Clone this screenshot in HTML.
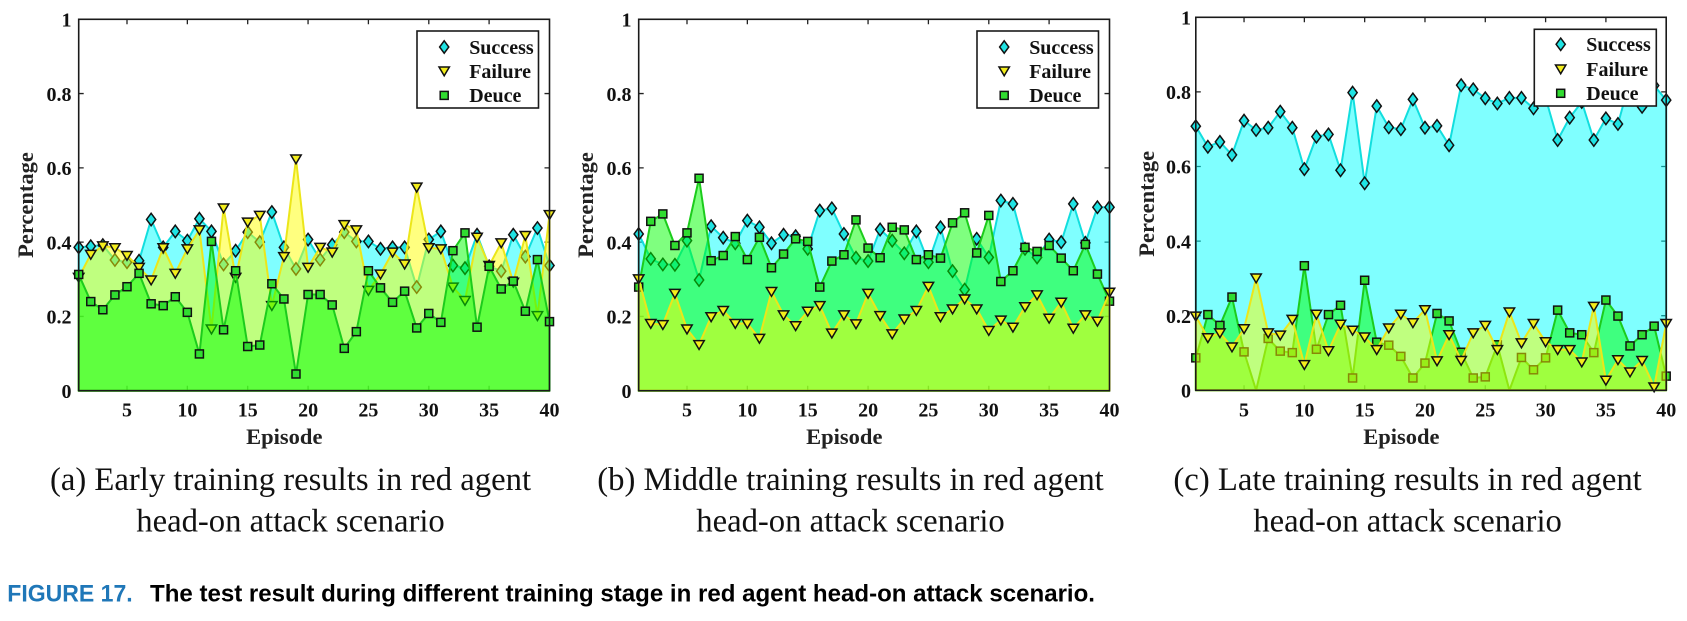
<!DOCTYPE html>
<html><head><meta charset="utf-8"><style>
body{margin:0;background:#fff}
svg{display:block}
.ser{font-family:"Liberation Serif",serif}
.b{font-weight:bold}
.fc{fill:#00ffff;fill-opacity:.5;stroke:#12dede;stroke-width:2;vector-effect:non-scaling-stroke;stroke-linejoin:round}
.fy{fill:#ffff00;fill-opacity:.5;stroke:#ece61a;stroke-width:2;vector-effect:non-scaling-stroke;stroke-linejoin:round}
.fg{fill:#00ff00;fill-opacity:.5;stroke:#1ccc1c;stroke-width:2;vector-effect:non-scaling-stroke;stroke-linejoin:round}
.tk{stroke:#222;stroke-width:1.3;fill:none}
.bx{stroke:#1a1a1a;stroke-width:1.6;fill:none}
</style></head><body>
<svg width="1687" height="621" viewBox="0 0 1687 621">
<defs>
<g id="d"><path d="M0,-6.2L4.6,0L0,6.2L-4.6,0Z" fill="#1fe3e3" stroke="#111" stroke-width="1.5"/></g>
<g id="t"><path d="M-5.2,-4L5.2,-4L0,4.8Z" fill="#f4ee1c" stroke="#111" stroke-width="1.5"/></g>
<g id="s"><rect x="-4" y="-4" width="8" height="8" fill="#30dc30" stroke="#111" stroke-width="1.5"/></g>
</defs>
<rect width="1687" height="621" fill="#fff"/>

<!-- ================= PANEL A ================= -->
<path class="tk" d="M127,390.7v-5M187.35,390.7v-5M247.7,390.7v-5M308.07,390.7v-5M368.4,390.7v-5M428.8,390.7v-5M489.1,390.7v-5M127,19.3v5M187.35,19.3v5M247.7,19.3v5M308.07,19.3v5M368.4,19.3v5M428.8,19.3v5M489.1,19.3v5M78.7,316.42h5M78.7,242.14h5M78.7,167.86h5M78.7,93.58h5M549.5,316.42h-5M549.5,242.14h-5M549.5,167.86h-5M549.5,93.58h-5"/>
<g transform="translate(66.628,390.7) scale(12.072,-371.4)">
<polygon class="fc" points="1,0 1,.386 2,.389 3,.392 4,.352 5,.346 6,.350 7,.461 8,.386 9,.429 10,.404 11,.463 12,.429 13,.340 14,.377 15,.427 16,.400 17,.481 18,.386 19,.328 20,.407 21,.353 22,.393 23,.427 24,.402 25,.402 26,.382 27,.386 28,.386 29,.279 30,.407 31,.429 32,.337 33,.330 34,.420 35,.335 36,.322 37,.420 38,.361 39,.438 40,.337 40,0"/>
</g>
<svg x="78.7" y="390.7" width="470.8" height="371.4" overflow="visible">
<use href="#d" x="0%" y="-38.6%"/><use href="#d" x="2.564%" y="-38.9%"/><use href="#d" x="5.128%" y="-39.2%"/><use href="#d" x="7.692%" y="-35.2%"/><use href="#d" x="10.256%" y="-34.6%"/><use href="#d" x="12.821%" y="-35%"/><use href="#d" x="15.385%" y="-46.1%"/><use href="#d" x="17.949%" y="-38.6%"/><use href="#d" x="20.513%" y="-42.9%"/><use href="#d" x="23.077%" y="-40.4%"/><use href="#d" x="25.641%" y="-46.3%"/><use href="#d" x="28.205%" y="-42.9%"/><use href="#d" x="30.769%" y="-34%"/><use href="#d" x="33.333%" y="-37.7%"/><use href="#d" x="35.897%" y="-42.7%"/><use href="#d" x="38.462%" y="-40%"/><use href="#d" x="41.026%" y="-48.1%"/><use href="#d" x="43.59%" y="-38.6%"/><use href="#d" x="46.154%" y="-32.8%"/><use href="#d" x="48.718%" y="-40.7%"/><use href="#d" x="51.282%" y="-35.3%"/><use href="#d" x="53.846%" y="-39.3%"/><use href="#d" x="56.41%" y="-42.7%"/><use href="#d" x="58.974%" y="-40.2%"/><use href="#d" x="61.538%" y="-40.2%"/><use href="#d" x="64.103%" y="-38.2%"/><use href="#d" x="66.667%" y="-38.6%"/><use href="#d" x="69.231%" y="-38.6%"/><use href="#d" x="71.795%" y="-27.9%"/><use href="#d" x="74.359%" y="-40.7%"/><use href="#d" x="76.923%" y="-42.9%"/><use href="#d" x="79.487%" y="-33.7%"/><use href="#d" x="82.051%" y="-33%"/><use href="#d" x="84.615%" y="-42%"/><use href="#d" x="87.179%" y="-33.5%"/><use href="#d" x="89.744%" y="-32.2%"/><use href="#d" x="92.308%" y="-42%"/><use href="#d" x="94.872%" y="-36.1%"/><use href="#d" x="97.436%" y="-43.8%"/><use href="#d" x="100%" y="-33.7%"/>
</svg>
<g transform="translate(66.628,390.7) scale(12.072,-371.4)">
<polygon class="fy" points="1,0 1,.305 2,.367 3,.390 4,.385 5,.364 6,.332 7,.298 8,.385 9,.316 10,.382 11,.433 12,.166 13,.492 14,.305 15,.454 16,.472 17,.229 18,.361 19,.624 20,.332 21,.386 22,.373 23,.447 24,.433 25,.270 26,.314 27,.373 28,.341 29,.548 30,.385 31,.382 32,.279 33,.243 34,.413 35,.337 36,.398 37,.292 38,.418 39,.202 40,.474 40,0"/>
</g>
<svg x="78.7" y="390.7" width="470.8" height="371.4" overflow="visible">
<use href="#t" x="0%" y="-30.5%"/><use href="#t" x="2.564%" y="-36.7%"/><use href="#t" x="5.128%" y="-39%"/><use href="#t" x="7.692%" y="-38.5%"/><use href="#t" x="10.256%" y="-36.4%"/><use href="#t" x="12.821%" y="-33.2%"/><use href="#t" x="15.385%" y="-29.8%"/><use href="#t" x="17.949%" y="-38.5%"/><use href="#t" x="20.513%" y="-31.6%"/><use href="#t" x="23.077%" y="-38.2%"/><use href="#t" x="25.641%" y="-43.3%"/><use href="#t" x="28.205%" y="-16.6%"/><use href="#t" x="30.769%" y="-49.2%"/><use href="#t" x="33.333%" y="-30.5%"/><use href="#t" x="35.897%" y="-45.4%"/><use href="#t" x="38.462%" y="-47.2%"/><use href="#t" x="41.026%" y="-22.9%"/><use href="#t" x="43.59%" y="-36.1%"/><use href="#t" x="46.154%" y="-62.4%"/><use href="#t" x="48.718%" y="-33.2%"/><use href="#t" x="51.282%" y="-38.6%"/><use href="#t" x="53.846%" y="-37.3%"/><use href="#t" x="56.41%" y="-44.7%"/><use href="#t" x="58.974%" y="-43.3%"/><use href="#t" x="61.538%" y="-27%"/><use href="#t" x="64.103%" y="-31.4%"/><use href="#t" x="66.667%" y="-37.3%"/><use href="#t" x="69.231%" y="-34.1%"/><use href="#t" x="71.795%" y="-54.8%"/><use href="#t" x="74.359%" y="-38.5%"/><use href="#t" x="76.923%" y="-38.2%"/><use href="#t" x="79.487%" y="-27.9%"/><use href="#t" x="82.051%" y="-24.3%"/><use href="#t" x="84.615%" y="-41.3%"/><use href="#t" x="87.179%" y="-33.7%"/><use href="#t" x="89.744%" y="-39.8%"/><use href="#t" x="92.308%" y="-29.2%"/><use href="#t" x="94.872%" y="-41.8%"/><use href="#t" x="97.436%" y="-20.2%"/><use href="#t" x="100%" y="-47.4%"/>
</svg>
<g transform="translate(66.628,390.7) scale(12.072,-371.4)">
<polygon class="fg" points="1,0 1,.313 2,.240 3,.218 4,.258 5,.280 6,.316 7,.234 8,.229 9,.253 10,.211 11,.099 12,.402 13,.164 14,.323 15,.119 16,.123 17,.288 18,.247 19,.045 20,.259 21,.259 22,.231 23,.114 24,.159 25,.323 26,.277 27,.238 28,.268 29,.169 30,.208 31,.184 32,.377 33,.425 34,.171 35,.335 36,.274 37,.295 38,.214 39,.353 40,.186 40,0"/>
</g>
<svg x="78.7" y="390.7" width="470.8" height="371.4" overflow="visible">
<use href="#s" x="0%" y="-31.3%"/><use href="#s" x="2.564%" y="-24%"/><use href="#s" x="5.128%" y="-21.8%"/><use href="#s" x="7.692%" y="-25.8%"/><use href="#s" x="10.256%" y="-28%"/><use href="#s" x="12.821%" y="-31.6%"/><use href="#s" x="15.385%" y="-23.4%"/><use href="#s" x="17.949%" y="-22.9%"/><use href="#s" x="20.513%" y="-25.3%"/><use href="#s" x="23.077%" y="-21.1%"/><use href="#s" x="25.641%" y="-9.9%"/><use href="#s" x="28.205%" y="-40.2%"/><use href="#s" x="30.769%" y="-16.4%"/><use href="#s" x="33.333%" y="-32.3%"/><use href="#s" x="35.897%" y="-11.9%"/><use href="#s" x="38.462%" y="-12.3%"/><use href="#s" x="41.026%" y="-28.8%"/><use href="#s" x="43.59%" y="-24.7%"/><use href="#s" x="46.154%" y="-4.5%"/><use href="#s" x="48.718%" y="-25.9%"/><use href="#s" x="51.282%" y="-25.9%"/><use href="#s" x="53.846%" y="-23.1%"/><use href="#s" x="56.41%" y="-11.4%"/><use href="#s" x="58.974%" y="-15.9%"/><use href="#s" x="61.538%" y="-32.3%"/><use href="#s" x="64.103%" y="-27.7%"/><use href="#s" x="66.667%" y="-23.8%"/><use href="#s" x="69.231%" y="-26.8%"/><use href="#s" x="71.795%" y="-16.9%"/><use href="#s" x="74.359%" y="-20.8%"/><use href="#s" x="76.923%" y="-18.4%"/><use href="#s" x="79.487%" y="-37.7%"/><use href="#s" x="82.051%" y="-42.5%"/><use href="#s" x="84.615%" y="-17.1%"/><use href="#s" x="87.179%" y="-33.5%"/><use href="#s" x="89.744%" y="-27.4%"/><use href="#s" x="92.308%" y="-29.5%"/><use href="#s" x="94.872%" y="-21.4%"/><use href="#s" x="97.436%" y="-35.3%"/><use href="#s" x="100%" y="-18.6%"/>
</svg>
<rect class="bx" x="78.7" y="19.3" width="470.8" height="371.4"/>
<rect x="417" y="31" width="121.5" height="77" fill="#fff" stroke="#1a1a1a" stroke-width="1.6"/>
<use href="#d" x="444.2" y="47"/><use href="#t" x="444.2" y="71"/><use href="#s" x="444.2" y="95.4"/>
<g class="ser b" font-size="20" fill="#111">
<text x="469.2" y="53.8">Success</text><text x="469.2" y="77.8">Failure</text><text x="469.2" y="102.2">Deuce</text>
</g>
<g class="ser b" font-size="20" fill="#111" text-anchor="end">
<text x="71.5" y="397.9">0</text><text x="71.5" y="323.6">0.2</text><text x="71.5" y="249.3">0.4</text><text x="71.5" y="175.1">0.6</text><text x="71.5" y="100.8">0.8</text><text x="71.5" y="26.5">1</text>
</g>
<g class="ser b" font-size="20" fill="#111" text-anchor="middle">
<text x="127" y="416.7">5</text><text x="187.35" y="416.7">10</text><text x="247.7" y="416.7">15</text><text x="308.07" y="416.7">20</text><text x="368.4" y="416.7">25</text><text x="428.8" y="416.7">30</text><text x="489.1" y="416.7">35</text><text x="549.5" y="416.7">40</text>
</g>
<text class="ser b" font-size="22.5" fill="#222" text-anchor="middle" x="284.3" y="444">Episode</text>
<text class="ser b" font-size="22.5" fill="#222" text-anchor="middle" transform="translate(33,205) rotate(-90)">Percentage</text>
<g class="ser" font-size="32.7" fill="#111" text-anchor="middle">
<text x="290.5" y="490">(a) Early training results in red agent</text>
<text x="290.5" y="531.5">head-on attack scenario</text>
</g>

<!-- ================= PANEL B ================= -->
<path class="tk" d="M687,390.7v-5M747.35,390.7v-5M807.7,390.7v-5M868.07,390.7v-5M928.4,390.7v-5M988.8,390.7v-5M1049.1,390.7v-5M687,19.3v5M747.35,19.3v5M807.7,19.3v5M868.07,19.3v5M928.4,19.3v5M988.8,19.3v5M1049.1,19.3v5M638.7,316.42h5M638.7,242.14h5M638.7,167.86h5M638.7,93.58h5M1109.5,316.42h-5M1109.5,242.14h-5M1109.5,167.86h-5M1109.5,93.58h-5"/>
<g transform="translate(626.628,390.7) scale(12.072,-371.4)">
<polygon class="fc" points="1,0 1,.422 2,.355 3,.340 4,.339 5,.404 6,.298 7,.443 8,.412 9,.397 10,.458 11,.440 12,.397 13,.420 14,.416 15,.382 16,.485 17,.491 18,.422 19,.358 20,.349 21,.434 22,.404 23,.370 24,.429 25,.346 26,.440 27,.322 28,.272 29,.409 30,.359 31,.512 32,.503 33,.382 34,.359 35,.407 36,.400 37,.503 38,.398 39,.494 40,.494 40,0"/>
</g>
<svg x="638.7" y="390.7" width="470.8" height="371.4" overflow="visible">
<use href="#d" x="0%" y="-42.2%"/><use href="#d" x="2.564%" y="-35.5%"/><use href="#d" x="5.128%" y="-34%"/><use href="#d" x="7.692%" y="-33.9%"/><use href="#d" x="10.256%" y="-40.4%"/><use href="#d" x="12.821%" y="-29.8%"/><use href="#d" x="15.385%" y="-44.3%"/><use href="#d" x="17.949%" y="-41.2%"/><use href="#d" x="20.513%" y="-39.7%"/><use href="#d" x="23.077%" y="-45.8%"/><use href="#d" x="25.641%" y="-44%"/><use href="#d" x="28.205%" y="-39.7%"/><use href="#d" x="30.769%" y="-42%"/><use href="#d" x="33.333%" y="-41.6%"/><use href="#d" x="35.897%" y="-38.2%"/><use href="#d" x="38.462%" y="-48.5%"/><use href="#d" x="41.026%" y="-49.1%"/><use href="#d" x="43.59%" y="-42.2%"/><use href="#d" x="46.154%" y="-35.8%"/><use href="#d" x="48.718%" y="-34.9%"/><use href="#d" x="51.282%" y="-43.4%"/><use href="#d" x="53.846%" y="-40.4%"/><use href="#d" x="56.41%" y="-37%"/><use href="#d" x="58.974%" y="-42.9%"/><use href="#d" x="61.538%" y="-34.6%"/><use href="#d" x="64.103%" y="-44%"/><use href="#d" x="66.667%" y="-32.2%"/><use href="#d" x="69.231%" y="-27.2%"/><use href="#d" x="71.795%" y="-40.9%"/><use href="#d" x="74.359%" y="-35.9%"/><use href="#d" x="76.923%" y="-51.2%"/><use href="#d" x="79.487%" y="-50.3%"/><use href="#d" x="82.051%" y="-38.2%"/><use href="#d" x="84.615%" y="-35.9%"/><use href="#d" x="87.179%" y="-40.7%"/><use href="#d" x="89.744%" y="-40%"/><use href="#d" x="92.308%" y="-50.3%"/><use href="#d" x="94.872%" y="-39.8%"/><use href="#d" x="97.436%" y="-49.4%"/><use href="#d" x="100%" y="-49.4%"/>
</svg>
<g transform="translate(626.628,390.7) scale(12.072,-371.4)">
<polygon class="fg" points="1,0 1,.279 2,.456 3,.476 4,.391 5,.425 6,.572 7,.350 8,.364 9,.415 10,.353 11,.413 12,.331 13,.368 14,.409 15,.402 16,.279 17,.349 18,.366 19,.460 20,.384 21,.358 22,.440 23,.433 24,.353 25,.366 26,.357 27,.452 28,.479 29,.371 30,.472 31,.294 32,.323 33,.386 34,.375 35,.391 36,.357 37,.323 38,.394 39,.314 40,.241 40,0"/>
</g>
<svg x="638.7" y="390.7" width="470.8" height="371.4" overflow="visible">
<use href="#s" x="0%" y="-27.9%"/><use href="#s" x="2.564%" y="-45.6%"/><use href="#s" x="5.128%" y="-47.6%"/><use href="#s" x="7.692%" y="-39.1%"/><use href="#s" x="10.256%" y="-42.5%"/><use href="#s" x="12.821%" y="-57.2%"/><use href="#s" x="15.385%" y="-35%"/><use href="#s" x="17.949%" y="-36.4%"/><use href="#s" x="20.513%" y="-41.5%"/><use href="#s" x="23.077%" y="-35.3%"/><use href="#s" x="25.641%" y="-41.3%"/><use href="#s" x="28.205%" y="-33.1%"/><use href="#s" x="30.769%" y="-36.8%"/><use href="#s" x="33.333%" y="-40.9%"/><use href="#s" x="35.897%" y="-40.2%"/><use href="#s" x="38.462%" y="-27.9%"/><use href="#s" x="41.026%" y="-34.9%"/><use href="#s" x="43.59%" y="-36.6%"/><use href="#s" x="46.154%" y="-46%"/><use href="#s" x="48.718%" y="-38.4%"/><use href="#s" x="51.282%" y="-35.8%"/><use href="#s" x="53.846%" y="-44%"/><use href="#s" x="56.41%" y="-43.3%"/><use href="#s" x="58.974%" y="-35.3%"/><use href="#s" x="61.538%" y="-36.6%"/><use href="#s" x="64.103%" y="-35.7%"/><use href="#s" x="66.667%" y="-45.2%"/><use href="#s" x="69.231%" y="-47.9%"/><use href="#s" x="71.795%" y="-37.1%"/><use href="#s" x="74.359%" y="-47.2%"/><use href="#s" x="76.923%" y="-29.4%"/><use href="#s" x="79.487%" y="-32.3%"/><use href="#s" x="82.051%" y="-38.6%"/><use href="#s" x="84.615%" y="-37.5%"/><use href="#s" x="87.179%" y="-39.1%"/><use href="#s" x="89.744%" y="-35.7%"/><use href="#s" x="92.308%" y="-32.3%"/><use href="#s" x="94.872%" y="-39.4%"/><use href="#s" x="97.436%" y="-31.4%"/><use href="#s" x="100%" y="-24.1%"/>
</svg>
<g transform="translate(626.628,390.7) scale(12.072,-371.4)">
<polygon class="fy" points="1,0 1,.301 2,.181 3,.178 4,.262 5,.166 6,.124 7,.199 8,.216 9,.181 10,.181 11,.141 12,.267 13,.204 14,.175 15,.214 16,.229 17,.155 18,.204 19,.180 20,.262 21,.202 22,.153 23,.193 24,.216 25,.281 26,.199 27,.220 28,.247 29,.220 30,.162 31,.190 32,.171 33,.226 34,.258 35,.195 36,.238 37,.168 38,.204 39,.187 40,.265 40,0"/>
</g>
<svg x="638.7" y="390.7" width="470.8" height="371.4" overflow="visible">
<use href="#t" x="0%" y="-30.1%"/><use href="#t" x="2.564%" y="-18.1%"/><use href="#t" x="5.128%" y="-17.8%"/><use href="#t" x="7.692%" y="-26.2%"/><use href="#t" x="10.256%" y="-16.6%"/><use href="#t" x="12.821%" y="-12.4%"/><use href="#t" x="15.385%" y="-19.9%"/><use href="#t" x="17.949%" y="-21.6%"/><use href="#t" x="20.513%" y="-18.1%"/><use href="#t" x="23.077%" y="-18.1%"/><use href="#t" x="25.641%" y="-14.1%"/><use href="#t" x="28.205%" y="-26.7%"/><use href="#t" x="30.769%" y="-20.4%"/><use href="#t" x="33.333%" y="-17.5%"/><use href="#t" x="35.897%" y="-21.4%"/><use href="#t" x="38.462%" y="-22.9%"/><use href="#t" x="41.026%" y="-15.5%"/><use href="#t" x="43.59%" y="-20.4%"/><use href="#t" x="46.154%" y="-18%"/><use href="#t" x="48.718%" y="-26.2%"/><use href="#t" x="51.282%" y="-20.2%"/><use href="#t" x="53.846%" y="-15.3%"/><use href="#t" x="56.41%" y="-19.3%"/><use href="#t" x="58.974%" y="-21.6%"/><use href="#t" x="61.538%" y="-28.1%"/><use href="#t" x="64.103%" y="-19.9%"/><use href="#t" x="66.667%" y="-22%"/><use href="#t" x="69.231%" y="-24.7%"/><use href="#t" x="71.795%" y="-22%"/><use href="#t" x="74.359%" y="-16.2%"/><use href="#t" x="76.923%" y="-19%"/><use href="#t" x="79.487%" y="-17.1%"/><use href="#t" x="82.051%" y="-22.6%"/><use href="#t" x="84.615%" y="-25.8%"/><use href="#t" x="87.179%" y="-19.5%"/><use href="#t" x="89.744%" y="-23.8%"/><use href="#t" x="92.308%" y="-16.8%"/><use href="#t" x="94.872%" y="-20.4%"/><use href="#t" x="97.436%" y="-18.7%"/><use href="#t" x="100%" y="-26.5%"/>
</svg>
<rect class="bx" x="638.7" y="19.3" width="470.8" height="371.4"/>
<rect x="977" y="31" width="121.5" height="77" fill="#fff" stroke="#1a1a1a" stroke-width="1.6"/>
<use href="#d" x="1004.2" y="47"/><use href="#t" x="1004.2" y="71"/><use href="#s" x="1004.2" y="95.4"/>
<g class="ser b" font-size="20" fill="#111">
<text x="1029.2" y="53.8">Success</text><text x="1029.2" y="77.8">Failure</text><text x="1029.2" y="102.2">Deuce</text>
</g>
<g class="ser b" font-size="20" fill="#111" text-anchor="end">
<text x="631.5" y="397.9">0</text><text x="631.5" y="323.6">0.2</text><text x="631.5" y="249.3">0.4</text><text x="631.5" y="175.1">0.6</text><text x="631.5" y="100.8">0.8</text><text x="631.5" y="26.5">1</text>
</g>
<g class="ser b" font-size="20" fill="#111" text-anchor="middle">
<text x="687" y="416.7">5</text><text x="747.35" y="416.7">10</text><text x="807.7" y="416.7">15</text><text x="868.07" y="416.7">20</text><text x="928.4" y="416.7">25</text><text x="988.8" y="416.7">30</text><text x="1049.1" y="416.7">35</text><text x="1109.5" y="416.7">40</text>
</g>
<text class="ser b" font-size="22.5" fill="#222" text-anchor="middle" x="844.3" y="444">Episode</text>
<text class="ser b" font-size="22.5" fill="#222" text-anchor="middle" transform="translate(593,205) rotate(-90)">Percentage</text>
<g class="ser" font-size="32.7" fill="#111" text-anchor="middle">
<text x="850.5" y="490">(b) Middle training results in red agent</text>
<text x="850.5" y="531.5">head-on attack scenario</text>
</g>

<!-- ================= PANEL C ================= -->
<path class="tk" d="M1244.05,390.3v-5M1304.36,390.3v-5M1364.67,390.3v-5M1424.98,390.3v-5M1485.29,390.3v-5M1545.6,390.3v-5M1605.9,390.3v-5M1244.05,17.3v5M1304.36,17.3v5M1364.67,17.3v5M1424.98,17.3v5M1485.29,17.3v5M1545.6,17.3v5M1605.9,17.3v5M1195.8,315.7h5M1195.8,241.1h5M1195.8,166.5h5M1195.8,91.9h5M1666.2,315.7h-5M1666.2,241.1h-5M1666.2,166.5h-5M1666.2,91.9h-5"/>
<g transform="translate(1183.738,390.3) scale(12.062,-373)">
<polygon class="fc" points="1,0 1,.708 2,.653 3,.666 4,.631 5,.723 6,.698 7,.704 8,.747 9,.704 10,.593 11,.680 12,.686 13,.590 14,.798 15,.555 16,.762 17,.705 18,.700 19,.780 20,.704 21,.709 22,.657 23,.818 24,.807 25,.783 26,.769 27,.784 28,.784 29,.756 30,.784 31,.671 32,.731 33,.773 34,.671 35,.729 36,.714 37,.832 38,.760 39,.817 40,.778 40,0"/>
</g>
<svg x="1195.8" y="390.3" width="470.4" height="373" overflow="visible">
<use href="#d" x="0%" y="-70.8%"/><use href="#d" x="2.564%" y="-65.3%"/><use href="#d" x="5.128%" y="-66.6%"/><use href="#d" x="7.692%" y="-63.1%"/><use href="#d" x="10.256%" y="-72.3%"/><use href="#d" x="12.821%" y="-69.8%"/><use href="#d" x="15.385%" y="-70.4%"/><use href="#d" x="17.949%" y="-74.7%"/><use href="#d" x="20.513%" y="-70.4%"/><use href="#d" x="23.077%" y="-59.3%"/><use href="#d" x="25.641%" y="-68%"/><use href="#d" x="28.205%" y="-68.6%"/><use href="#d" x="30.769%" y="-59%"/><use href="#d" x="33.333%" y="-79.8%"/><use href="#d" x="35.897%" y="-55.5%"/><use href="#d" x="38.462%" y="-76.2%"/><use href="#d" x="41.026%" y="-70.5%"/><use href="#d" x="43.59%" y="-70%"/><use href="#d" x="46.154%" y="-78%"/><use href="#d" x="48.718%" y="-70.4%"/><use href="#d" x="51.282%" y="-70.9%"/><use href="#d" x="53.846%" y="-65.7%"/><use href="#d" x="56.41%" y="-81.8%"/><use href="#d" x="58.974%" y="-80.7%"/><use href="#d" x="61.538%" y="-78.3%"/><use href="#d" x="64.103%" y="-76.9%"/><use href="#d" x="66.667%" y="-78.4%"/><use href="#d" x="69.231%" y="-78.4%"/><use href="#d" x="71.795%" y="-75.6%"/><use href="#d" x="74.359%" y="-78.4%"/><use href="#d" x="76.923%" y="-67.1%"/><use href="#d" x="79.487%" y="-73.1%"/><use href="#d" x="82.051%" y="-77.3%"/><use href="#d" x="84.615%" y="-67.1%"/><use href="#d" x="87.179%" y="-72.9%"/><use href="#d" x="89.744%" y="-71.4%"/><use href="#d" x="92.308%" y="-83.2%"/><use href="#d" x="94.872%" y="-76%"/><use href="#d" x="97.436%" y="-81.7%"/><use href="#d" x="100%" y="-77.8%"/>
</svg>
<g transform="translate(1183.738,390.3) scale(12.062,-373)">
<polygon class="fg" points="1,0 1,.087 2,.203 3,.174 4,.250 5,.103 6,0 7,.139 8,.105 9,.101 10,.334 11,.110 12,.203 13,.228 14,.033 15,.295 16,.129 17,.121 18,.091 19,.033 20,.073 21,.206 22,.186 23,.102 24,.033 25,.036 26,.122 27,0 28,.088 29,.055 30,.087 31,.215 32,.154 33,.149 34,.101 35,.242 36,.199 37,.119 38,.149 39,.172 40,.038 40,0"/>
</g>
<svg x="1195.8" y="390.3" width="470.4" height="373" overflow="visible">
<use href="#s" x="0%" y="-8.7%"/><use href="#s" x="2.564%" y="-20.3%"/><use href="#s" x="5.128%" y="-17.4%"/><use href="#s" x="7.692%" y="-25%"/><use href="#s" x="10.256%" y="-10.3%"/><use href="#s" x="15.385%" y="-13.9%"/><use href="#s" x="17.949%" y="-10.5%"/><use href="#s" x="20.513%" y="-10.1%"/><use href="#s" x="23.077%" y="-33.4%"/><use href="#s" x="25.641%" y="-11%"/><use href="#s" x="28.205%" y="-20.3%"/><use href="#s" x="30.769%" y="-22.8%"/><use href="#s" x="33.333%" y="-3.3%"/><use href="#s" x="35.897%" y="-29.5%"/><use href="#s" x="38.462%" y="-12.9%"/><use href="#s" x="41.026%" y="-12.1%"/><use href="#s" x="43.59%" y="-9.1%"/><use href="#s" x="46.154%" y="-3.3%"/><use href="#s" x="48.718%" y="-7.3%"/><use href="#s" x="51.282%" y="-20.6%"/><use href="#s" x="53.846%" y="-18.6%"/><use href="#s" x="56.41%" y="-10.2%"/><use href="#s" x="58.974%" y="-3.3%"/><use href="#s" x="61.538%" y="-3.6%"/><use href="#s" x="64.103%" y="-12.2%"/><use href="#s" x="69.231%" y="-8.8%"/><use href="#s" x="71.795%" y="-5.5%"/><use href="#s" x="74.359%" y="-8.7%"/><use href="#s" x="76.923%" y="-21.5%"/><use href="#s" x="79.487%" y="-15.4%"/><use href="#s" x="82.051%" y="-14.9%"/><use href="#s" x="84.615%" y="-10.1%"/><use href="#s" x="87.179%" y="-24.2%"/><use href="#s" x="89.744%" y="-19.9%"/><use href="#s" x="92.308%" y="-11.9%"/><use href="#s" x="94.872%" y="-14.9%"/><use href="#s" x="97.436%" y="-17.2%"/><use href="#s" x="100%" y="-3.8%"/>
</svg>
<g transform="translate(1183.738,390.3) scale(12.062,-373)">
<polygon class="fy" points="1,0 1,.199 2,.141 3,.154 4,.116 5,.165 6,.301 7,.154 8,.148 9,.190 10,.069 11,.204 12,.106 13,.177 14,.161 15,.143 16,.109 17,.167 18,.204 19,.181 20,.216 21,.079 22,.149 23,.080 24,.154 25,.174 26,.109 27,.210 28,.127 29,.179 30,.130 31,.109 32,.109 33,.076 34,.225 35,.027 36,.082 37,.049 38,.080 39,.009 40,.179 40,0"/>
</g>
<svg x="1195.8" y="390.3" width="470.4" height="373" overflow="visible">
<use href="#t" x="0%" y="-19.9%"/><use href="#t" x="2.564%" y="-14.1%"/><use href="#t" x="5.128%" y="-15.4%"/><use href="#t" x="7.692%" y="-11.6%"/><use href="#t" x="10.256%" y="-16.5%"/><use href="#t" x="12.821%" y="-30.1%"/><use href="#t" x="15.385%" y="-15.4%"/><use href="#t" x="17.949%" y="-14.8%"/><use href="#t" x="20.513%" y="-19%"/><use href="#t" x="23.077%" y="-6.9%"/><use href="#t" x="25.641%" y="-20.4%"/><use href="#t" x="28.205%" y="-10.6%"/><use href="#t" x="30.769%" y="-17.7%"/><use href="#t" x="33.333%" y="-16.1%"/><use href="#t" x="35.897%" y="-14.3%"/><use href="#t" x="38.462%" y="-10.9%"/><use href="#t" x="41.026%" y="-16.7%"/><use href="#t" x="43.59%" y="-20.4%"/><use href="#t" x="46.154%" y="-18.1%"/><use href="#t" x="48.718%" y="-21.6%"/><use href="#t" x="51.282%" y="-7.9%"/><use href="#t" x="53.846%" y="-14.9%"/><use href="#t" x="56.41%" y="-8%"/><use href="#t" x="58.974%" y="-15.4%"/><use href="#t" x="61.538%" y="-17.4%"/><use href="#t" x="64.103%" y="-10.9%"/><use href="#t" x="66.667%" y="-21%"/><use href="#t" x="69.231%" y="-12.7%"/><use href="#t" x="71.795%" y="-17.9%"/><use href="#t" x="74.359%" y="-13%"/><use href="#t" x="76.923%" y="-10.9%"/><use href="#t" x="79.487%" y="-10.9%"/><use href="#t" x="82.051%" y="-7.6%"/><use href="#t" x="84.615%" y="-22.5%"/><use href="#t" x="87.179%" y="-2.7%"/><use href="#t" x="89.744%" y="-8.2%"/><use href="#t" x="92.308%" y="-4.9%"/><use href="#t" x="94.872%" y="-8%"/><use href="#t" x="97.436%" y="-0.9%"/><use href="#t" x="100%" y="-17.9%"/>
</svg>
<rect class="bx" x="1195.8" y="17.3" width="470.4" height="373"/>
<rect x="1534.3" y="29.3" width="122" height="76.7" fill="#fff" stroke="#1a1a1a" stroke-width="1.6"/>
<use href="#d" x="1560.7" y="44.3"/><use href="#t" x="1560.7" y="69"/><use href="#s" x="1560.7" y="93.3"/>
<g class="ser b" font-size="20" fill="#111">
<text x="1586.3" y="51.1">Success</text><text x="1586.3" y="75.8">Failure</text><text x="1586.3" y="100.1">Deuce</text>
</g>
<g class="ser b" font-size="20" fill="#111" text-anchor="end">
<text x="1191" y="397.5">0</text><text x="1191" y="322.9">0.2</text><text x="1191" y="248.3">0.4</text><text x="1191" y="173.7">0.6</text><text x="1191" y="99.1">0.8</text><text x="1191" y="24.5">1</text>
</g>
<g class="ser b" font-size="20" fill="#111" text-anchor="middle">
<text x="1244.05" y="416.7">5</text><text x="1304.36" y="416.7">10</text><text x="1364.67" y="416.7">15</text><text x="1424.98" y="416.7">20</text><text x="1485.29" y="416.7">25</text><text x="1545.6" y="416.7">30</text><text x="1605.9" y="416.7">35</text><text x="1666.2" y="416.7">40</text>
</g>
<text class="ser b" font-size="22.5" fill="#222" text-anchor="middle" x="1401.4" y="444">Episode</text>
<text class="ser b" font-size="22.5" fill="#222" text-anchor="middle" transform="translate(1153.8,203.8) rotate(-90)">Percentage</text>
<g class="ser" font-size="32.7" fill="#111" text-anchor="middle">
<text x="1407.6" y="490">(c) Late training results in red agent</text>
<text x="1407.6" y="531.5">head-on attack scenario</text>
</g>

<!-- ================= FIGURE CAPTION ================= -->
<text x="7.3" y="601.7" font-family="'Liberation Sans',sans-serif" font-weight="bold" font-size="24" fill="#1f77b8" textLength="125.4" lengthAdjust="spacingAndGlyphs">FIGURE 17.</text>
<text x="150" y="601.7" font-family="'Liberation Sans',sans-serif" font-weight="bold" font-size="24" fill="#000" textLength="945" lengthAdjust="spacingAndGlyphs">The test result during different training stage in red agent head-on attack scenario.</text>
</svg>
</body></html>
